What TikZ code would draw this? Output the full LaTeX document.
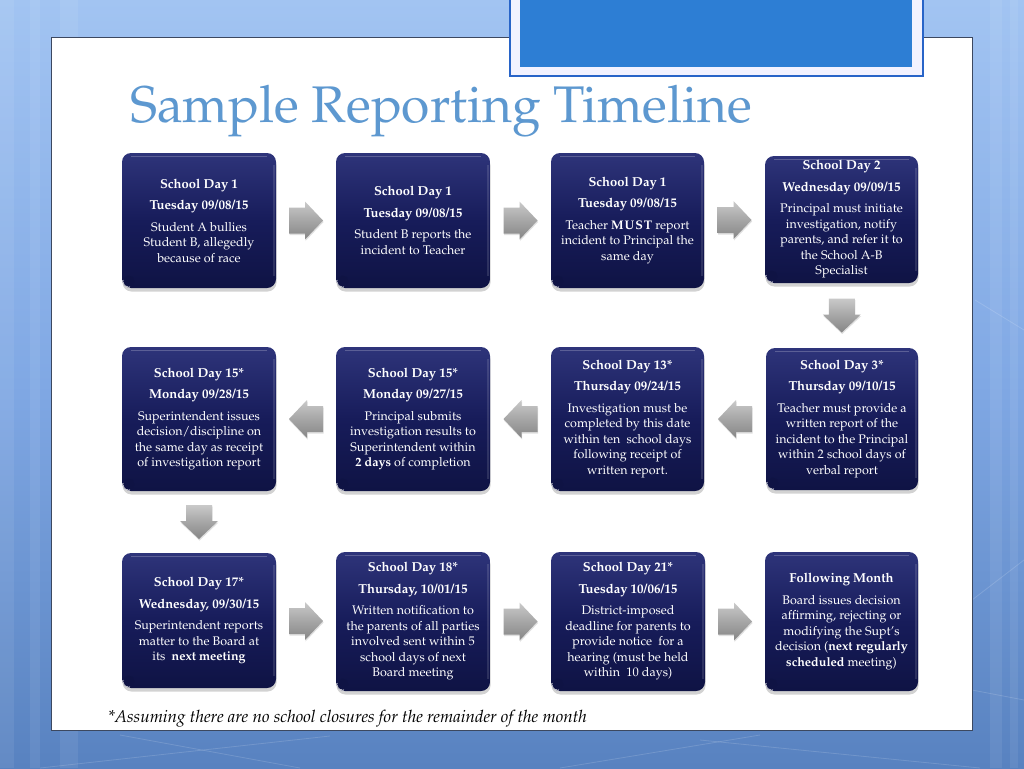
\documentclass[tikz,border=0pt]{standalone}
\usepackage[T1]{fontenc}
\usepackage{mathpazo}
\usetikzlibrary{shadows}
\definecolor{bgtop}{RGB}{162,196,242}
\definecolor{bgmid}{RGB}{128,168,228}
\definecolor{bgbot}{RGB}{88,130,192}
\definecolor{titleblue}{RGB}{93,152,208}
\definecolor{boxtop}{RGB}{46,52,122}
\definecolor{boxmid}{RGB}{23,28,90}
\definecolor{boxbot}{RGB}{15,19,68}
\definecolor{framblue}{RGB}{40,100,200}
\definecolor{fillblue}{RGB}{45,126,212}
\definecolor{panelline}{RGB}{60,72,96}
\newcommand{\boxfont}{\fontsize{12.5}{15.5}\selectfont}
\newcommand{\hd}[1]{{\fontsize{13}{15.5}\selectfont\bfseries #1}}
\begin{document}
\begin{tikzpicture}[x=1pt,y=-1pt,
  stepbox/.style={rounded corners=9pt, inner sep=0pt, align=center, text=white,
    font=\boxfont, top color=boxtop, bottom color=boxbot, middle color=boxmid,
    drop shadow={shadow xshift=0.5pt, shadow yshift=-3.5pt, opacity=0.35},
    path picture={
      \draw[white, opacity=0.22, line width=1.6pt]
        ([xshift=9pt,yshift=-3.5pt]path picture bounding box.north west) --
        ([xshift=-9pt,yshift=-3.5pt]path picture bounding box.north east);
      \draw[white, opacity=0.12, line width=2pt]
        ([xshift=-2pt,yshift=-12pt]path picture bounding box.north east) --
        ([xshift=-2pt,yshift=12pt]path picture bounding box.south east);
      \fill[white, opacity=0.9] ([xshift=4pt,yshift=4pt]path picture bounding box.south west) circle (5pt);
      \fill[boxbot] ([xshift=6.8pt,yshift=6.8pt]path picture bounding box.south west) circle (5.6pt);
    }},
  barrow/.pic={
    \path[top color=gray!42, bottom color=gray!95, middle color=gray!70,
      drop shadow={opacity=0.25, shadow xshift=0.5pt, shadow yshift=-1.5pt}]
      (-17,-13) -- (-1,-13) -- (-1,-19) -- (17,0) -- (-1,19) -- (-1,13) -- (-17,13) -- cycle;
  }
]
\useasboundingbox (0,0) rectangle (1024,768);
% background
\shade[top color=bgtop, bottom color=bgbot, middle color=bgmid] (0,0) rectangle (1024,768);
\foreach \xa/\wa in {0/14, 30/10, 60/18, 990/12, 1010/8}
  \fill[white, opacity=0.07] (\xa,0) rectangle ++(\wa,768);
\foreach \ax/\ay/\bx/\by in {40/768/330/736, 300/768/120/735, 560/768/760/735, 700/740/980/768, 972/600/1024/560, 975/300/1024/330, 972/690/1024/700}
  \draw[white, opacity=0.15, line width=0.8pt] (\ax,\ay) -- (\bx,\by);
% white panel
\fill[white] (51,37) rectangle (972,730);
\draw[panelline, line width=0.8pt] (51,37) rectangle (972,730);
% top blue rectangle
\fill[white!95!blue] (510,-2) rectangle (923,76);
\draw[framblue, line width=1.4pt] (510,-2) rectangle (923,76);
\fill[fillblue] (520,-2) rectangle (912,67);
% title
\node[anchor=base west, text=titleblue, font=\fontsize{51.5}{60}\selectfont, inner sep=0pt] (title) at (130,122) {Sample Reporting Timeline};
% row 1
\node[stepbox, minimum width=154pt, minimum height=135pt] (b1) at (199,220.5)
  {\hd{School Day 1}\\[6pt]\hd{Tuesday 09/08/15}\\[6pt]Student A bullies\\Student B, allegedly\\because of race};
\node[stepbox, minimum width=154pt, minimum height=135pt] (b2) at (413,220.5)
  {\hd{School Day 1}\\[6pt]\hd{Tuesday 09/08/15}\\[6pt]Student B reports the\\incident to Teacher};
\node[stepbox, minimum width=153pt, minimum height=135pt] (b3) at (627.5,220.5)
  {\hd{School Day 1}\\[6pt]\hd{Tuesday 09/08/15}\\[6pt]Teacher \textbf{M\kern1ptU\kern1ptS\kern1ptT} report\\incident to Principal the\\same day};
\node[stepbox, minimum width=153pt, minimum height=127pt] (b4) at (841.5,219.5)
  {\hd{School Day 2}\\[6pt]\hd{Wednesday 09/09/15}\\[6pt]Principal must initiate\\investigation, notify\\parents, and refer it to\\the School A-B\\Specialist};
% row 2
\node[stepbox, minimum width=154pt, minimum height=144pt] (c1) at (199,419)
  {\hd{School Day 15*}\\[6pt]\hd{Monday 09/28/15}\\[6pt]Superintendent issues\\decision/discipline on\\the same day as receipt\\of investigation report};
\node[stepbox, minimum width=154pt, minimum height=144pt] (c2) at (413,419)
  {\hd{School Day 15*}\\[6pt]\hd{Monday 09/27/15}\\[6pt]Principal submits\\investigation results to\\Superintendent within\\\textbf{2 days} of completion};
\node[stepbox, minimum width=153pt, minimum height=144pt] (c3) at (627.5,419)
  {\hd{School Day 13*}\\[6pt]\hd{Thursday 09/24/15}\\[6pt]Investigation must be\\completed by this date\\within ten\ \ school days\\following receipt of\\written report.};
\node[stepbox, minimum width=152pt, minimum height=142pt] (c4) at (842,419)
  {\hd{School Day 3*}\\[6pt]\hd{Thursday 09/10/15}\\[6pt]Teacher must provide a\\written report of the\\incident to the Principal\\within 2 school days of\\verbal report};
% row 3
\node[stepbox, minimum width=154pt, minimum height=135pt] (d1) at (199,620.5)
  {\hd{School Day 17*}\\[6pt]\hd{Wednesday, 09/30/15}\\[6pt]Superintendent reports\\matter to the Board at\\its\ \ \textbf{next meeting}};
\node[stepbox, minimum width=154pt, minimum height=139pt] (d2) at (413,621.5)
  {\hd{School Day 18*}\\[6pt]\hd{Thursday, 10/01/15}\\[6pt]Written notification to\\the parents of all parties\\involved sent within 5\\school days of next\\Board meeting};
\node[stepbox, minimum width=154pt, minimum height=139pt] (d3) at (628,621.5)
  {\hd{School Day 21*}\\[6pt]\hd{Tuesday 10/06/15}\\[6pt]District-imposed\\deadline for parents to\\provide notice\ \ for a\\hearing (must be held\\within\ \ 10 days)};
\node[stepbox, minimum width=153pt, minimum height=139pt] (d4) at (841.5,621.5)
  {\hd{Following Month}\\[6pt]Board issues decision\\affirming, rejecting or\\modifying the Supt's\\decision (\textbf{next regularly}\\\textbf{scheduled} meeting)};
% block arrows between boxes
\path (b1) -- (b2) coordinate[midway] (m1);
\path (b2) -- (b3) coordinate[midway] (m2);
\path (b3) -- (b4) coordinate[midway] (m3);
\path (b4) -- (c4) coordinate[midway] (m4);
\path (c4) -- (c3) coordinate[midway] (m5);
\path (c3) -- (c2) coordinate[midway] (m6);
\path (c2) -- (c1) coordinate[midway] (m7);
\path (c1) -- (d1) coordinate[midway] (m8);
\path (d1) -- (d2) coordinate[midway] (m9);
\path (d2) -- (d3) coordinate[midway] (m10);
\path (d3) -- (d4) coordinate[midway] (m11);
\foreach \m in {m1,m2,m3,m9,m10,m11} \pic at (\m) {barrow};
\foreach \m in {m5,m6,m7} \pic[rotate=180] at (\m) {barrow};
\foreach \m in {m4,m8} \pic[rotate=-90] at (\m) {barrow};
% footnote
\node[anchor=base west, font=\fontsize{17}{20}\selectfont\itshape, inner sep=0pt] (note) at (108,722)
  {*Assuming there are no school closures for the remainder of the month};
\end{tikzpicture}
\end{document}
